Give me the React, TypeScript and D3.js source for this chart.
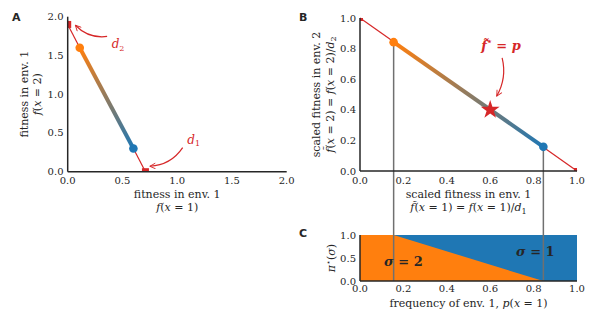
import React from "react";
import * as d3 from "d3";

// raw fitness values (panel A)
const d1 = 0.71;
const d2 = 1.9;
const rawFront = [
  { x: 0.11, y: 1.6 },
  { x: 0.6, y: 0.3 },
];
// scaled values (panel B)
const scaledFront = [
  { x: 0.155, y: 0.842 },
  { x: 0.845, y: 0.158 },
];
const optimum = { x: 0.6, y: 0.4 };
// panel C: boundary of sigma=2 region
const switchPts = [0.155, 0.845];

const ticksA = [0, 0.5, 1, 1.5, 2];
const ticksB = [0, 0.2, 0.4, 0.6, 0.8, 1];
const ticksCy = [0, 0.5, 1];

const ORANGE = "#ff7f0e";
const BLUE = "#1f77b4";
const RED = "#d62728";
const GREY = "#707070";
const INK = "#262626";
const SERIF = "'DejaVu Serif', serif";
const SANS = "'DejaVu Sans', sans-serif";
const TICK = 10;
const LAB = 11;

const xA = d3.scaleLinear().domain([0, 2]).range([67.7, 286.7]);
const yA = d3.scaleLinear().domain([0, 2]).range([171.7, 16.7]);
const xB = d3.scaleLinear().domain([0, 1]).range([360, 577]);
const yB = d3.scaleLinear().domain([0, 1]).range([171, 18]);
const yC = d3.scaleLinear().domain([0, 1]).range([281, 235]);

const fmt = d3.format(".1f");

const Sub = ({ children }: { children: React.ReactNode }) => (
  <tspan fontSize="8" dy="2.5">{children}</tspan>
);
const I = ({ children }: { children: React.ReactNode }) => (
  <tspan fontStyle="italic">{children}</tspan>
);

function arrowPath(x0: number, y0: number, x1: number, y1: number, bend: number) {
  const mx = (x0 + x1) / 2, my = (y0 + y1) / 2;
  const dx = x1 - x0, dy = y1 - y0;
  const cx = mx - dy * bend, cy = my + dx * bend;
  return `M${x0},${y0}Q${cx},${cy} ${x1},${y1}`;
}

export default function App() {
  const line = d3.line();
  const aPts: [number, number][] = [
    [xA(0), yA(d2)],
    [xA(rawFront[0].x), yA(rawFront[0].y)],
  ];
  const aPts2: [number, number][] = [
    [xA(rawFront[1].x), yA(rawFront[1].y)],
    [xA(d1), yA(0)],
  ];
  const star = d3.symbol(d3.symbolStar, 110)();
  const cPoly = [
    [0, 0], [0, 1], [switchPts[0], 1], [switchPts[1], 0],
  ].map(([x, y]) => [xB(x), yC(y)].join(",")).join(" ");

  return (
    <svg width={600} height={325} style={{ position: "absolute", left: 0, top: 0, fontFamily: SERIF }}
      fill={INK}>
      <defs>
        <clipPath id="clipA"><rect x={xA(0)} y={yA(2)} width={xA(2) - xA(0)} height={yA(0) - yA(2)} /></clipPath>
        <clipPath id="clipB"><rect x={xB(0)} y={yB(1)} width={xB(1) - xB(0)} height={yB(0) - yB(1)} /></clipPath>
        <linearGradient id="gA" gradientUnits="userSpaceOnUse"
          x1={xA(rawFront[0].x)} y1={yA(rawFront[0].y)} x2={xA(rawFront[1].x)} y2={yA(rawFront[1].y)}>
          <stop offset="0" stopColor={ORANGE} /><stop offset="1" stopColor={BLUE} />
        </linearGradient>
        <linearGradient id="gB" gradientUnits="userSpaceOnUse"
          x1={xB(scaledFront[0].x)} y1={yB(scaledFront[0].y)} x2={xB(scaledFront[1].x)} y2={yB(scaledFront[1].y)}>
          <stop offset="0" stopColor={ORANGE} /><stop offset="1" stopColor={BLUE} />
        </linearGradient>
        <marker id="arr" viewBox="0 0 10 10" refX="9" refY="5" markerWidth="7" markerHeight="7"
          orient="auto-start-reverse" markerUnits="userSpaceOnUse">
          <path d="M1,1L9,5L1,9" fill="none" stroke={RED} strokeWidth="1.3" />
        </marker>
      </defs>

      {/* ---------- panel A ---------- */}
      <text x={12} y={21} style={{ fontFamily: SANS }} fontWeight="bold" fontSize="11">A</text>
      <path d={line(aPts)!} stroke={RED} strokeWidth={1.2} fill="none" />
      <path d={line(aPts2)!} stroke={RED} strokeWidth={1.2} fill="none" />
      <line x1={xA(rawFront[0].x)} y1={yA(rawFront[0].y)} x2={xA(rawFront[1].x)} y2={yA(rawFront[1].y)}
        stroke="url(#gA)" strokeWidth={4} />
      <g clipPath="url(#clipA)" fill={RED}>
        <rect x={xA(0) - 3.5} y={yA(d2) - 3.5} width={7} height={7} />
        <rect x={xA(d1) - 3.5} y={yA(0) - 3.5} width={7} height={7} />
      </g>
      <circle cx={xA(rawFront[0].x)} cy={yA(rawFront[0].y)} r={4.3} fill={ORANGE} />
      <circle cx={xA(rawFront[1].x)} cy={yA(rawFront[1].y)} r={4.3} fill={BLUE} />
      <line x1={xA(0)} x2={xA(0)} y1={yA(2)} y2={yA(0)} stroke={INK} strokeWidth={1.5} />
      <line x1={xA(0)} x2={xA(2)} y1={yA(0)} y2={yA(0)} stroke={INK} strokeWidth={1.5} />
      {ticksA.map(t => (
        <text key={"ax" + t} x={xA(t)} y={184} fontSize={TICK} textAnchor="middle">{fmt(t)}</text>
      ))}
      {ticksA.map(t => (
        <text key={"ay" + t} x={63.5} y={yA(t) + 3.5} fontSize={TICK} textAnchor="end">{fmt(t)}</text>
      ))}
      <text x={(xA(0) + xA(2)) / 2} y={198} fontSize={LAB} textAnchor="middle">fitness in env. 1</text>
      <text x={(xA(0) + xA(2)) / 2} y={211} fontSize={LAB} textAnchor="middle">
        <I>f</I>(<I>x</I> = 1)
      </text>
      <g transform={`translate(28,${(yA(0) + yA(2)) / 2}) rotate(-90)`}>
        <text fontSize={LAB} textAnchor="middle">fitness in env. 1</text>
      </g>
      <g transform={`translate(41,${(yA(0) + yA(2)) / 2}) rotate(-90)`}>
        <text fontSize={LAB} textAnchor="middle"><I>f</I>(<I>x</I> = 2)</text>
      </g>
      {/* annotations A */}
      <path d={arrowPath(xA(0.36), yA(1.745), xA(0.07), yA(1.89), -0.25)} fill="none" stroke={RED}
        strokeWidth={1.2} markerEnd="url(#arr)" />
      <text x={xA(0.46)} y={yA(1.59)} fontSize="12" fill={RED} textAnchor="middle"><I>d</I><Sub>2</Sub></text>
      <path d={arrowPath(xA(1.05), yA(0.31), xA(0.75), yA(0.07), -0.25)} fill="none" stroke={RED}
        strokeWidth={1.2} markerEnd="url(#arr)" />
      <text x={xA(1.15)} y={yA(0.36)} fontSize="12" fill={RED} textAnchor="middle"><I>d</I><Sub>1</Sub></text>

      {/* ---------- panel B ---------- */}
      <text x={299} y={21} style={{ fontFamily: SANS }} fontWeight="bold" fontSize="11">B</text>
      {switchPts.map((s, i) => (
        <line key={"v" + i} x1={xB(s)} x2={xB(s)} y1={yB(scaledFront[i].y)} y2={yC(0)}
          stroke={GREY} strokeWidth={1.5} />
      ))}
      <line x1={xB(0)} y1={yB(1)} x2={xB(1)} y2={yB(0)} stroke={RED} strokeWidth={1.2} />
      <line x1={xB(scaledFront[0].x)} y1={yB(scaledFront[0].y)} x2={xB(scaledFront[1].x)} y2={yB(scaledFront[1].y)}
        stroke="url(#gB)" strokeWidth={4} />
      <g clipPath="url(#clipB)" fill={RED}>
        <rect x={xB(0) - 3} y={yB(1) - 3} width={6} height={6} />
        <rect x={xB(1) - 3} y={yB(0) - 3} width={6} height={6} />
      </g>
      <circle cx={xB(scaledFront[0].x)} cy={yB(scaledFront[0].y)} r={4.3} fill={ORANGE} />
      <circle cx={xB(scaledFront[1].x)} cy={yB(scaledFront[1].y)} r={4.3} fill={BLUE} />
      <path d={star!} transform={`translate(${xB(optimum.x)},${yB(optimum.y)})`} fill={RED} />
      <line x1={xB(0)} x2={xB(0)} y1={yB(1)} y2={yB(0)} stroke={INK} strokeWidth={1.5} />
      <line x1={xB(0)} x2={xB(1)} y1={yB(0)} y2={yB(0)} stroke={INK} strokeWidth={1.5} />
      {ticksB.map(t => (
        <text key={"bx" + t} x={xB(t)} y={184} fontSize={TICK} textAnchor="middle">{fmt(t)}</text>
      ))}
      {ticksB.map(t => (
        <text key={"by" + t} x={356} y={yB(t) + 3.5} fontSize={TICK} textAnchor="end">{fmt(t)}</text>
      ))}
      <text x={(xB(0) + xB(1)) / 2} y={198} fontSize={LAB} textAnchor="middle">scaled fitness in env. 1</text>
      <text x={(xB(0) + xB(1)) / 2} y={211} fontSize={LAB} textAnchor="middle">
        <I>f̃</I>(<I>x</I> = 1) = <I>f</I>(<I>x</I> = 1)/<I>d</I><Sub>1</Sub>
      </text>
      <g transform={`translate(320,${(yB(0) + yB(1)) / 2}) rotate(-90)`}>
        <text fontSize={LAB} textAnchor="middle">scaled fitness in env. 2</text>
      </g>
      <g transform={`translate(333.5,${(yB(0) + yB(1)) / 2}) rotate(-90)`}>
        <text fontSize={LAB} textAnchor="middle">
          <I>f̃</I>(<I>x</I> = 2) = <I>f</I>(<I>x</I> = 2)/<I>d</I><Sub>2</Sub>
        </text>
      </g>
      <path d={arrowPath(xB(0.655), yB(0.74), xB(0.63), yB(0.49), -0.2)} fill="none" stroke={RED}
        strokeWidth={1.2} markerEnd="url(#arr)" />
      <text x={xB(0.65)} y={yB(0.79)} fontSize="13" fill={RED} textAnchor="middle" fontWeight="bold">
        <I>f̃</I><tspan fontSize="8" dy="-6">⋆</tspan><tspan dy="6"> = </tspan><I>p</I>
      </text>

      {/* ---------- panel C ---------- */}
      <text x={299} y={237} style={{ fontFamily: SANS }} fontWeight="bold" fontSize="11">C</text>
      <rect x={xB(0)} y={yC(1)} width={xB(1) - xB(0)} height={yC(0) - yC(1)} fill={BLUE} />
      <polygon points={cPoly} fill={ORANGE} />
      {switchPts.map((s, i) => (
        <line key={"vc" + i} x1={xB(s)} x2={xB(s)} y1={yC(1)} y2={yC(0)} stroke={GREY} strokeWidth={1.5} />
      ))}
      <line x1={xB(0)} x2={xB(0)} y1={yC(1)} y2={yC(0)} stroke={INK} strokeWidth={1.5} />
      <line x1={xB(0)} x2={xB(1)} y1={yC(0)} y2={yC(0)} stroke={INK} strokeWidth={1.5} />
      <text x={xB(0.2)} y={yC(0.33)} fontSize="13" fontWeight="bold" textAnchor="middle">
        <I>σ</I> = 2
      </text>
      <text x={xB(0.808)} y={yC(0.54)} fontSize="13" fontWeight="bold" textAnchor="middle">
        <I>σ</I> = 1
      </text>
      {ticksB.map(t => (
        <text key={"cx" + t} x={xB(t)} y={292} fontSize={TICK} textAnchor="middle">{fmt(t)}</text>
      ))}
      {ticksCy.map(t => (
        <text key={"cy" + t} x={356} y={yC(t) + 3.5} fontSize={TICK} textAnchor="end">{fmt(t)}</text>
      ))}
      <text x={(xB(0) + xB(1)) / 2} y={307} fontSize={LAB} textAnchor="middle">
        frequency of env. 1, <I>p</I>(<I>x</I> = 1)
      </text>
      <g transform={`translate(335,${(yC(0) + yC(1)) / 2}) rotate(-90)`}>
        <text fontSize={LAB} textAnchor="middle">
          <I>π</I><tspan fontSize="8" dy="-4">⋆</tspan><tspan dy="4">(</tspan><I>σ</I>)
        </text>
      </g>
    </svg>
  );
}
